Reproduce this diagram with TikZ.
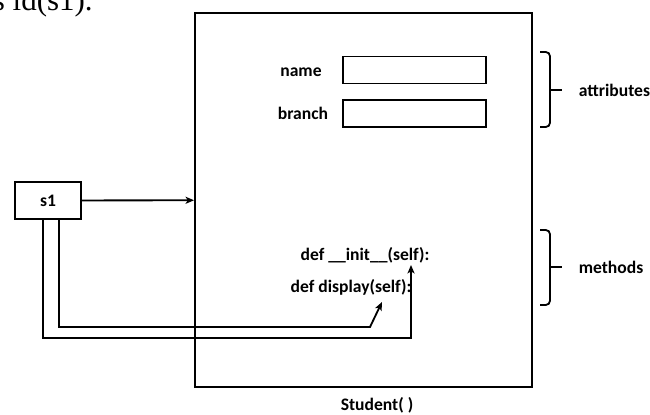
\documentclass[tikz,border=0pt]{standalone}
\usepackage{fontspec}
\setmainfont{Carlito}
\newfontfamily\serifpart{Liberation Serif}
\usetikzlibrary{arrows.meta, calc}

\begin{document}
\begin{tikzpicture}[x=0.025cm, y=-0.025cm,
        line width=1.3pt,
        >={Stealth[length=6pt, width=5pt, inset=1.5pt]},
        every node/.style={font=\fontsize{12.5}{14}\selectfont\bfseries},
        frame/.style={draw, inner sep=0pt},
        bracket/.style={rounded corners=3pt}]
    \useasboundingbox (0, 0) rectangle (650, 414);

    % cut-off text above the figure
    \node[anchor=base west, inner sep=0pt, font=\fontsize{22}{26}\serifpart] (cut) at (-8, 11) {s id(s1).};

    % object
    \node[frame, minimum width=8.425cm, minimum height=9.35cm] (obj) at (363.5, 200) {};
    \node (cls) at (377, 405) {Student( )};

    \node (name) at (301, 72) {name};
    \node[frame, minimum width=3.575cm, minimum height=0.675cm] (namebox) at (414.5, 70) {};
    \node (branch) at (303, 113) {branch};
    \node[frame, minimum width=3.575cm, minimum height=0.675cm] (branchbox) at (414.5, 113.5) {};

    \node (init) at (365, 255) {def \_\_init\_\_(self):};
    \node (disp) at (351, 287) {def display(self):};
    \coordinate (initin) at (411, 265);
    \coordinate (dispin) at (382, 302);

    % reference
    \node[frame, minimum width=1.65cm, minimum height=0.925cm] (s1) at (48, 200.5) {s1};
    \draw[->] (s1) -- (obj);
    \draw[->] ($(s1.south)+(-5, 0)$) |- (initin |- 0, 338) -- (initin);
    \draw[->] ($(s1.south)+(11, 0)$) |- (370, 327) -- (dispin);

    % attributes / methods
    \draw[bracket] (540, 52) -| (550, 90) |- (540, 127);
    \draw (550, 90) -- (562, 90) node[right=8pt] (attr) {attributes};
    \draw[bracket] (540, 230) -| (550, 267) |- (540, 305);
    \draw (550, 267) -- (562, 267) node[right=8pt] (meth) {methods};
\end{tikzpicture}
\end{document}
